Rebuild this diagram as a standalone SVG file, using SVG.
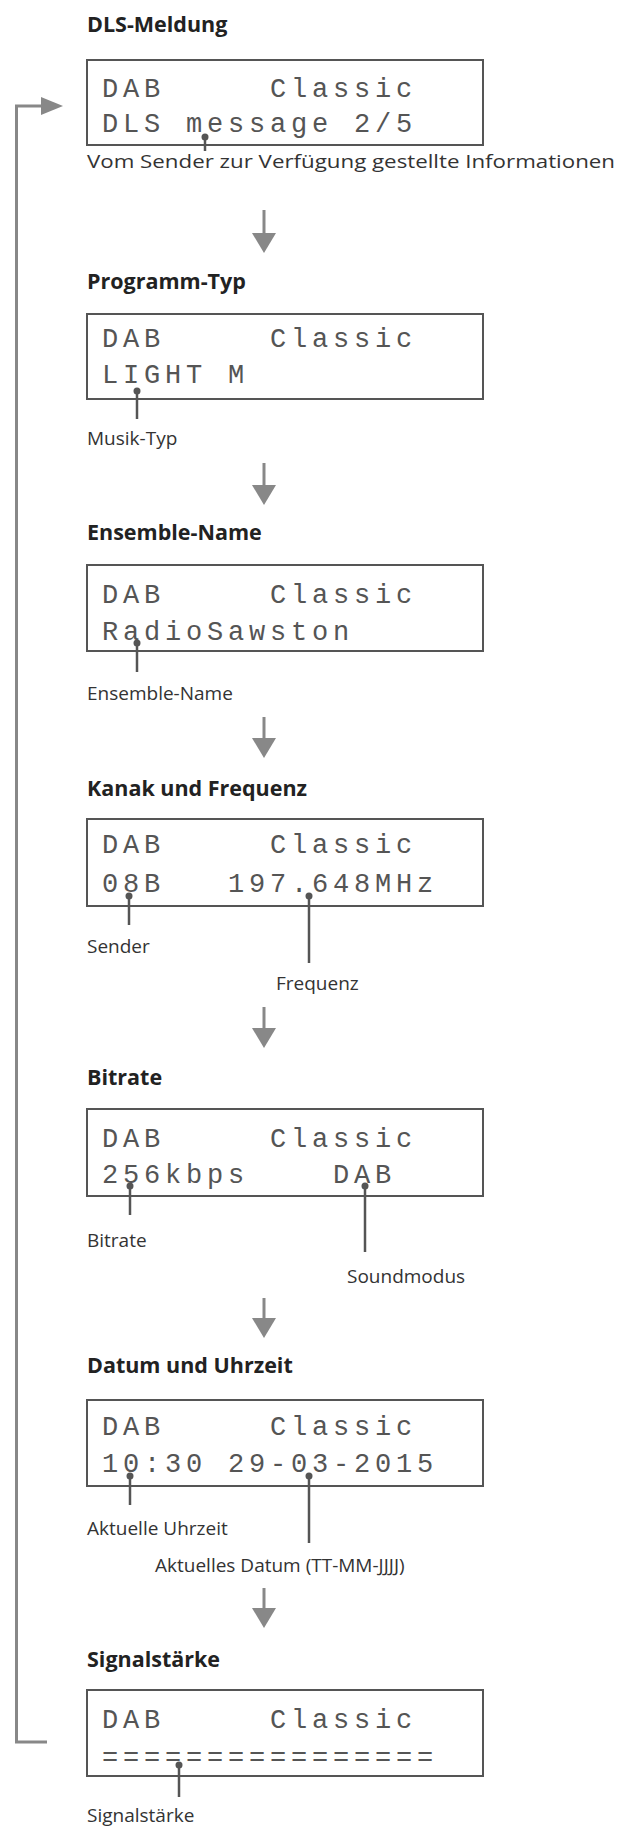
<svg xmlns="http://www.w3.org/2000/svg" width="618" height="1832" viewBox="0 0 618 1832">
<defs>
<style>
.t{font-family:"Open Sans","Liberation Sans",sans-serif;font-weight:bold;font-size:21.5px;fill:#222}
.l{font-family:"Open Sans","Liberation Sans",sans-serif;font-size:19px;fill:#333}
.box{fill:#fff;stroke:#555;stroke-width:2}
.lcd{font-family:"Liberation Mono","DejaVu Sans Mono",monospace;font-size:27px;fill:#555;letter-spacing:4.8px;white-space:pre}
.ld{stroke:#555;stroke-width:2.5;fill:none}
.dot{fill:#555}
.fl{stroke:#888;stroke-width:3;fill:none}
.ah{fill:#888}
</style>
</defs>
<g id="connectors">
<path class="fl" d="M264 210V235"/><path class="ah" d="M252 233H276L264 253Z"/>
<path class="fl" d="M264 463V487"/><path class="ah" d="M252 485H276L264 505Z"/>
<path class="fl" d="M264 717V740"/><path class="ah" d="M252 738H276L264 758Z"/>
<path class="fl" d="M264 1007V1030"/><path class="ah" d="M252 1028H276L264 1048Z"/>
<path class="fl" d="M264 1298V1320"/><path class="ah" d="M252 1318H276L264 1338Z"/>
<path class="fl" d="M264 1588V1610"/><path class="ah" d="M252 1608H276L264 1628Z"/>
<path class="fl" d="M47 1742H16.5V106H43"/><path class="ah" d="M41 97V115L63 106Z"/>
</g>
<g id="dls">
<text class="t" x="87" y="32">DLS-Meldung</text>
<rect class="box" x="87" y="60" width="396" height="85"/>
<text class="lcd" x="102" y="97">DAB     Classic</text>
<text class="lcd" x="102" y="132">DLS message 2/5</text>
<circle class="dot" cx="205" cy="137" r="3.5"/><path class="ld" d="M205 137V151"/>
<text class="l" x="87" y="168" textLength="528" lengthAdjust="spacingAndGlyphs">Vom Sender zur Verfügung gestellte Informationen</text>
</g>
<g id="programmtyp">
<text class="t" x="87" y="289">Programm-Typ</text>
<rect class="box" x="87" y="314" width="396" height="85"/>
<text class="lcd" x="102" y="347">DAB     Classic</text>
<text class="lcd" x="102" y="383">LIGHT M</text>
<circle class="dot" cx="137" cy="391" r="3.5"/><path class="ld" d="M137 391V419"/>
<text class="l" x="87" y="445">Musik-Typ</text>
</g>
<g id="ensemble">
<text class="t" x="87" y="540">Ensemble-Name</text>
<rect class="box" x="87" y="565" width="396" height="86"/>
<text class="lcd" x="102" y="603">DAB     Classic</text>
<text class="lcd" x="102" y="640">RadioSawston</text>
<circle class="dot" cx="137" cy="643" r="3.5"/><path class="ld" d="M137 643V672"/>
<text class="l" x="87" y="700">Ensemble-Name</text>
</g>
<g id="kanal">
<text class="t" x="87" y="796">Kanak und Frequenz</text>
<rect class="box" x="87" y="819" width="396" height="87"/>
<text class="lcd" x="102" y="853">DAB     Classic</text>
<text class="lcd" x="102" y="892">08B   197.648MHz</text>
<circle class="dot" cx="129" cy="896" r="3.5"/><path class="ld" d="M129 896V925"/>
<text class="l" x="87" y="953">Sender</text>
<circle class="dot" cx="309" cy="896" r="3.5"/><path class="ld" d="M309 896V963"/>
<text class="l" x="276" y="990">Frequenz</text>
</g>
<g id="bitrate">
<text class="t" x="87" y="1085">Bitrate</text>
<rect class="box" x="87" y="1109" width="396" height="87"/>
<text class="lcd" x="102" y="1147">DAB     Classic</text>
<text class="lcd" x="102" y="1183">256kbps    DAB</text>
<circle class="dot" cx="130" cy="1186" r="3.5"/><path class="ld" d="M130 1186V1215"/>
<text class="l" x="87" y="1247">Bitrate</text>
<circle class="dot" cx="365" cy="1186" r="3.5"/><path class="ld" d="M365 1186V1252"/>
<text class="l" x="347" y="1283">Soundmodus</text>
</g>
<g id="datum">
<text class="t" x="87" y="1373">Datum und Uhrzeit</text>
<rect class="box" x="87" y="1400" width="396" height="86"/>
<text class="lcd" x="102" y="1435">DAB     Classic</text>
<text class="lcd" x="102" y="1472">10:30 29-03-2015</text>
<circle class="dot" cx="130" cy="1476" r="3.5"/><path class="ld" d="M130 1476V1505"/>
<text class="l" x="87" y="1535">Aktuelle Uhrzeit</text>
<circle class="dot" cx="309" cy="1476" r="3.5"/><path class="ld" d="M309 1476V1543"/>
<text class="l" x="155" y="1572">Aktuelles Datum (TT-MM-JJJJ)</text>
</g>
<g id="signal">
<text class="t" x="87" y="1667">Signalstärke</text>
<rect class="box" x="87" y="1690" width="396" height="86"/>
<text class="lcd" x="102" y="1728">DAB     Classic</text>
<text class="lcd" x="102" y="1766">================</text>
<circle class="dot" cx="179" cy="1765" r="3.5"/><path class="ld" d="M179 1765V1797"/>
<text class="l" x="87" y="1822">Signalstärke</text>
</g>
</svg>
